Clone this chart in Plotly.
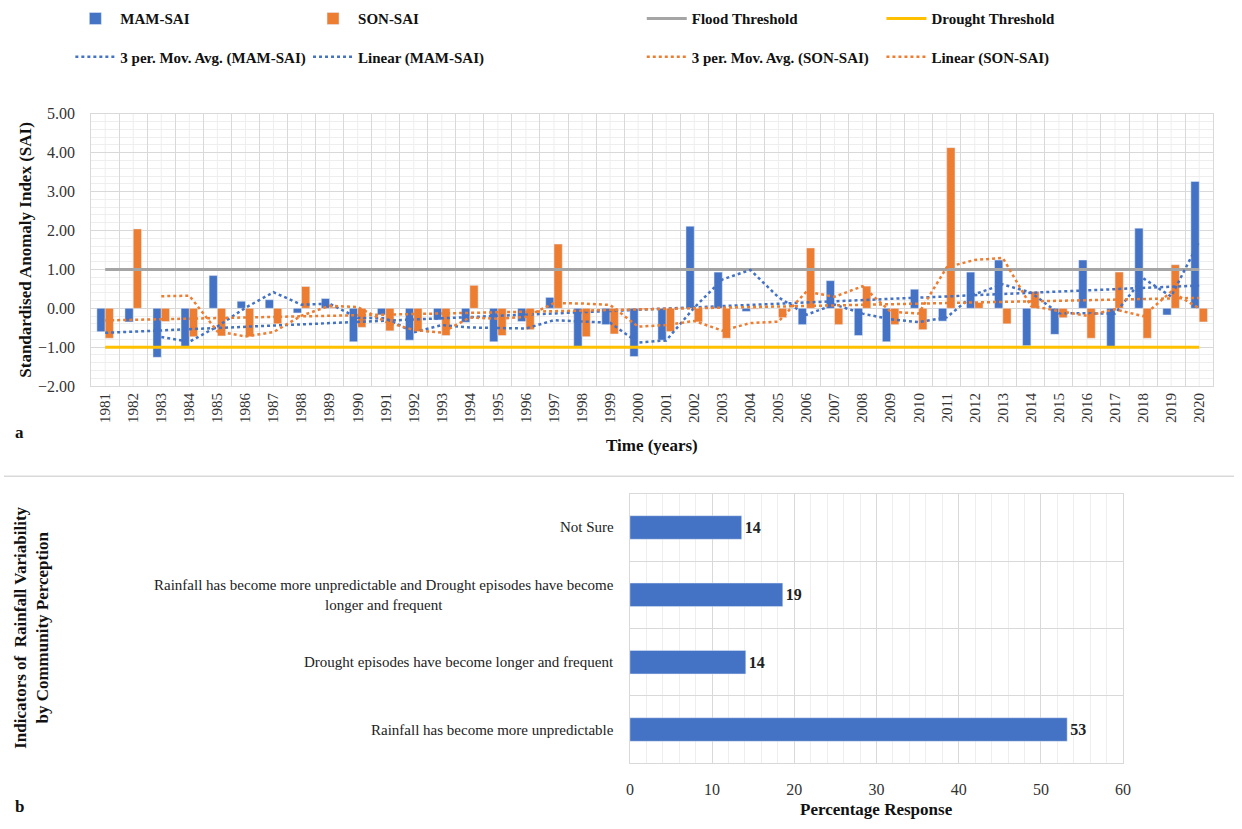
import numpy as np
import pandas as pd
import plotly.graph_objects as go

# ---------------- data ----------------
years = [str(y) for y in range(1981, 2021)]
mam_sai = [-0.60, -0.35, -1.26, -0.98, 0.84, 0.18, 0.22, -0.12, 0.25, -0.86,
           -0.17, -0.82, -0.30, -0.36, -0.86, -0.34, 0.28, -0.98, -0.42, -1.24,
           -0.82, 2.11, 0.93, -0.08, 0.00, -0.42, 0.71, -0.70, -0.86, 0.49,
           -0.33, 0.93, 1.24, -0.96, -0.67, 1.24, -0.98, 2.06, -0.17, 3.26]
son_sai = [-0.77, 2.04, -0.34, -0.73, -0.71, -0.73, -0.40, 0.56, 0.03, -0.49,
           -0.58, -0.60, -0.70, 0.59, -0.70, -0.55, 1.65, -0.73, -0.66, -0.03,
           -0.60, -0.35, -0.77, -0.02, -0.24, 1.55, -0.42, 0.57, -0.42, -0.55,
           4.13, 0.15, -0.40, 0.43, -0.24, -0.77, 0.93, -0.77, 1.12, -0.35]
flood_threshold = 1.0
drought_threshold = -1.0

perception_categories = [
    "Rainfall has become more unpredictable",
    "Drought episodes have become longer and frequent",
    "Rainfall has become more unpredictable and Drought episodes have become<br>longer and frequent",
    "Not Sure",
]
perception_values = [53.2, 14.1, 18.6, 13.6]

# ---------------- derived series ----------------
mam_ma = pd.Series(mam_sai).rolling(3).mean().tolist()
son_ma = pd.Series(son_sai).rolling(3).mean().tolist()
idx = np.arange(len(years))
mam_fit = np.polyval(np.polyfit(idx, mam_sai, 1), idx).tolist()
son_fit = np.polyval(np.polyfit(idx, son_sai, 1), idx).tolist()

BLUE = "#4472C4"
ORANGE = "#ED7D31"
GRAY = "#A5A5A5"
YELLOW = "#FFC000"
FONT = "Liberation Serif"
W, H = 1242, 829

def px_x(p):
    return p / W

def px_y(p):
    return 1 - p / H

fig = go.Figure()

fig.add_trace(go.Bar(x=years, y=mam_sai, name="MAM-SAI", marker_color=BLUE,
                     legend="legend"))
fig.add_trace(go.Bar(x=years, y=son_sai, name="SON-SAI", marker_color=ORANGE,
                     legend="legend2"))
fig.add_trace(go.Scatter(x=years, y=[flood_threshold] * len(years), mode="lines",
                         name="Flood Threshold", line=dict(color=GRAY, width=3),
                         legend="legend3"))
fig.add_trace(go.Scatter(x=years, y=[drought_threshold] * len(years), mode="lines",
                         name="Drought Threshold", line=dict(color=YELLOW, width=3),
                         legend="legend4"))
fig.add_trace(go.Scatter(x=years, y=mam_ma, mode="lines",
                         name="3 per. Mov. Avg. (MAM-SAI)",
                         line=dict(color=BLUE, width=2.5, dash="dot"),
                         legend="legend5"))
fig.add_trace(go.Scatter(x=years, y=mam_fit, mode="lines",
                         name="Linear (MAM-SAI)",
                         line=dict(color=BLUE, width=2.5, dash="dot"),
                         legend="legend6"))
fig.add_trace(go.Scatter(x=years, y=son_ma, mode="lines",
                         name="3 per. Mov. Avg. (SON-SAI)",
                         line=dict(color=ORANGE, width=2.5, dash="dot"),
                         legend="legend7"))
fig.add_trace(go.Scatter(x=years, y=son_fit, mode="lines",
                         name="Linear (SON-SAI)",
                         line=dict(color=ORANGE, width=2.5, dash="dot"),
                         legend="legend8"))

fig.add_trace(go.Bar(y=perception_categories, x=perception_values, orientation="h",
                     marker_color=BLUE, width=0.35, xaxis="x2", yaxis="y2",
                     texttemplate="<b>%{x:.0f}</b>", textposition="outside",
                     textfont=dict(family=FONT, size=16, color="#222"),
                     cliponaxis=False, showlegend=False))

# legends: one per entry, laid out like the Excel legend
leg_cols = [67, 307, 644, 886]
leg_rows = [11, 50]
legend_names = ["legend", "legend2", "legend3", "legend4",
                "legend5", "legend6", "legend7", "legend8"]
legend_layout = {}
for k, name in enumerate(legend_names):
    r, c = divmod(k, 4)
    legend_layout[name] = dict(
        x=px_x(leg_cols[c]), y=px_y(leg_rows[r]), xanchor="left", yanchor="middle",
        bgcolor="rgba(0,0,0,0)", borderwidth=0,
        font=dict(family=FONT, size=15, color="#111", weight="bold"),
        itemwidth=40,
    )

top_x0, top_x1, top_y0, top_y1 = 88, 1221, 108, 386
bot_x0, bot_x1, bot_y0, bot_y1 = 632, 1130, 496, 771

shapes = []
# mid-category light vertical gridlines in the top chart (category index positions)
for i, _yr in enumerate(years):
    shapes.append(dict(type="line", xref="x", yref="y domain", x0=i, x1=i,
                       y0=0, y1=1, line=dict(color="#EEEEEE", width=1), layer="below"))
# separator between the two panels
shapes.append(dict(type="line", xref="paper", yref="paper", x0=0, x1=1,
                   y0=px_y(478), y1=px_y(478), line=dict(color="#D9D9D9", width=1.5)))

def ann(text, x, y, size=17, angle=0):
    return dict(text=text, x=px_x(x), y=px_y(y), xref="paper", yref="paper",
                xanchor="center", yanchor="middle", textangle=angle, showarrow=False,
                font=dict(family=FONT, size=size, color="#111"))

annotations = [
    ann("<b>Standardised Anomaly Index (SAI)</b>", 22, 247, angle=-90),
    ann("<b>Time (years)</b>", 654, 447),
    ann("<b>a</b>", 16, 433),
    ann("<b>b</b>", 16, 815),
    ann("<b>Indicators of  Rainfall Variability<br>by Community Perception</b>", 27, 633,
        angle=-90),
    ann("<b>Percentage Response</b>", 881, 818),
]
for cat in perception_categories:
    annotations.append(dict(text=cat, x=px_x(618), y=cat, xref="paper", yref="y2",
                            xanchor="right", yanchor="middle", align="center",
                            showarrow=False,
                            font=dict(family=FONT, size=15, color="#222")))

fig.update_layout(
    width=W, height=H,
    margin=dict(l=0, r=0, t=0, b=0),
    paper_bgcolor="white", plot_bgcolor="white",
    barmode="group", bargap=0.41, bargroupgap=0,
    font=dict(family=FONT, color="#222"),
    xaxis=dict(domain=[px_x(top_x0), px_x(top_x1)], type="category",
               tickson="boundaries", showgrid=True, gridcolor="#D9D9D9",
               tickangle=-90, tickfont=dict(family=FONT, size=15, color="#333"),
               showline=True, linecolor="#D9D9D9", mirror=True, ticks="",
               anchor="y"),
    yaxis=dict(domain=[px_y(top_y1), px_y(top_y0)], range=[-2, 5], dtick=1,
               tickformat=".2f", showgrid=True, gridcolor="#D9D9D9",
               minor=dict(dtick=0.2, showgrid=True, gridcolor="#EEEEEE"),
               zeroline=False, showline=True, linecolor="#D9D9D9", mirror=True,
               ticklabelstandoff=12,
               tickfont=dict(family=FONT, size=16, color="#333"), anchor="x"),
    xaxis2=dict(domain=[px_x(bot_x0), px_x(bot_x1)], range=[0, 60], dtick=10,
                showgrid=True, gridcolor="#D9D9D9",
                minor=dict(dtick=2, showgrid=True, gridcolor="#EEEEEE"),
                zeroline=False, showline=True, linecolor="#D9D9D9", mirror=True,
                ticklabelstandoff=12,
                tickfont=dict(family=FONT, size=16, color="#333"), anchor="y2"),
    yaxis2=dict(domain=[px_y(bot_y1), px_y(bot_y0)], type="category",
                tickson="boundaries", showgrid=True, gridcolor="#D9D9D9",
                showticklabels=False, showline=True, linecolor="#D9D9D9",
                mirror=True, anchor="x2"),
    shapes=shapes,
    annotations=annotations,
    **legend_layout,
)

fig.write_html("out.html")
